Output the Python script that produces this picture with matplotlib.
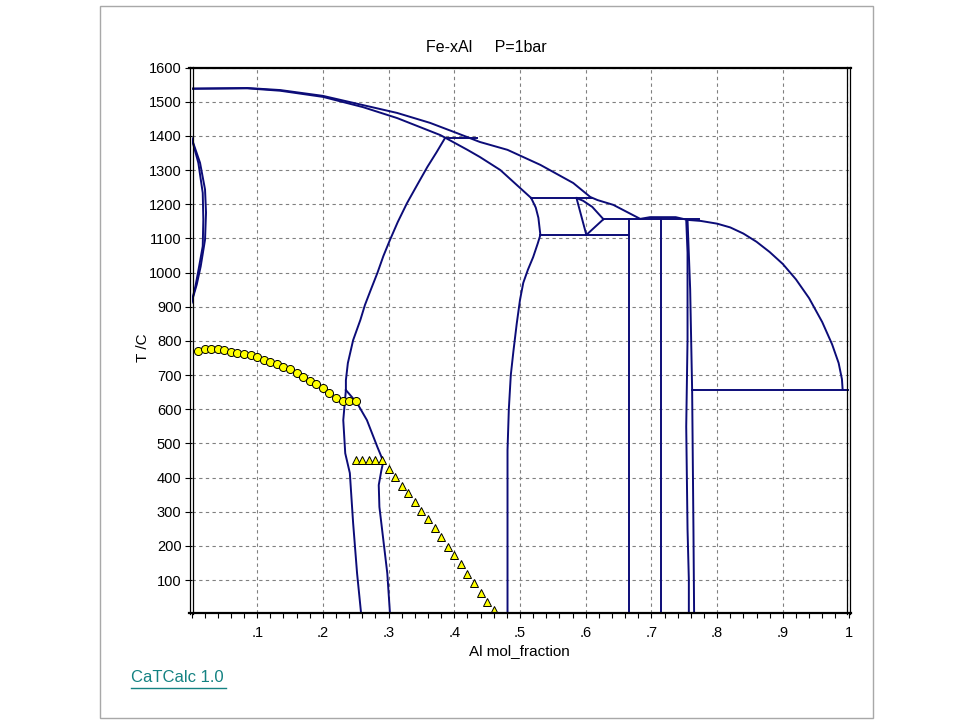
import matplotlib.pyplot as plt
from matplotlib.lines import Line2D
from matplotlib.patches import Rectangle

plt.rcParams['font.family'] = ['Liberation Sans', 'DejaVu Sans']

W, H = 960, 720
NAVY = '#0c0c78'

# --- phase boundaries (x = Al mol fraction, T in C) ---
liq_x = [0.0, 0.085, 0.135, 0.200, 0.261, 0.313, 0.363, 0.404, 0.439, 0.481, 0.531, 0.581,
         0.607, 0.618, 0.642, 0.663, 0.683, 0.698, 0.737, 0.755, 0.775, 0.800, 0.820, 0.840,
         0.860, 0.880, 0.900, 0.920, 0.940, 0.960, 0.975, 0.985, 0.990, 0.991]
liq_t = [1538, 1540, 1534, 1517, 1490, 1467, 1438, 1408, 1382, 1359, 1315, 1262,
         1221, 1212, 1198, 1177, 1157, 1162, 1162, 1154, 1151, 1143, 1132, 1114,
         1090, 1060, 1025, 980, 925, 855, 790, 735, 688, 659]

sol_x = [0.0, 0.085, 0.135, 0.200, 0.261, 0.313, 0.379, 0.420, 0.439, 0.470, 0.517]
sol_t = [1538, 1539, 1532, 1514, 1484, 1452, 1402, 1359, 1338, 1300, 1218]

b2_x = [0.517, 0.524, 0.528, 0.531, 0.527, 0.520, 0.512, 0.505, 0.500, 0.495, 0.490, 0.486,
        0.483, 0.481, 0.481]
b2_t = [1218, 1190, 1160, 1110, 1085, 1045, 1008, 970, 920, 850, 770, 700, 600, 480, 5]

ord_x = [0.386, 0.373, 0.359, 0.344, 0.328, 0.314, 0.302, 0.292, 0.283, 0.273, 0.264,
         0.257, 0.246, 0.238, 0.235, 0.235]
ord_t = [1394, 1352, 1309, 1258, 1203, 1148, 1095, 1048, 999, 950, 905,
         861, 802, 735, 685, 656]
ordl_x = [0.235, 0.231, 0.234, 0.241, 0.246, 0.252, 0.258]
ordl_t = [656, 568, 471, 413, 267, 120, 5]
ordr_x = [0.235, 0.252, 0.267, 0.283, 0.292, 0.289, 0.285, 0.286, 0.292, 0.298, 0.302]
ordr_t = [656, 618, 568, 489, 447, 421, 378, 314, 217, 120, 5]

gam_out_x = [0.0, 0.013, 0.0206, 0.0221, 0.0206, 0.014, 0.008, 0.0]
gam_out_t = [1394, 1321, 1243, 1175, 1096, 1018, 965, 912]
gam_in_x = [0.0, 0.0104, 0.0171, 0.018, 0.0171, 0.0104, 0.006, 0.0]
gam_in_t = [1394, 1321, 1233, 1155, 1077, 1005, 960, 912]

eps1_x = [0.586, 0.601]
eps1_t = [1218, 1110]
eps2_x = [0.586, 0.596, 0.610, 0.627]
eps2_t = [1218, 1210, 1192, 1156]
eps3_x = [0.627, 0.601]
eps3_t = [1156, 1110]

fe4l_x = [0.753, 0.755, 0.755, 0.753, 0.755, 0.757, 0.757]
fe4l_t = [1154, 1058, 804, 549, 248, 101, 5]
fe4r_x = [0.755, 0.759, 0.762, 0.764, 0.765]
fe4r_t = [1154, 951, 656, 248, 5]

# horizontal lines: (x start, x end, T)
horiz = [(0.517, 0.610, 1218), (0.531, 0.665, 1110), (0.386, 0.435, 1394),
         (0.627, 0.772, 1156), (0.762, 1.0, 657)]
# vertical lines: (x, T top, T bottom)
vert = [(0.666, 1156, 5), (0.714, 1160, 5)]

# --- experimental points ---
circ_x = [0.01, 0.02, 0.03, 0.04, 0.05, 0.06, 0.07, 0.08, 0.09, 0.10, 0.11, 0.12, 0.13,
          0.14, 0.15, 0.16, 0.17, 0.18, 0.19, 0.20, 0.21, 0.22, 0.23, 0.24, 0.25]
circ_t = [771, 775, 777, 777, 773, 768, 764, 762, 760, 752, 744, 738, 733,
          724, 717, 705, 693, 683, 674, 661, 648, 634, 623, 623, 623]

tri_x = [0.25, 0.26, 0.27, 0.28, 0.29, 0.30, 0.31, 0.32, 0.33, 0.34, 0.35, 0.36, 0.37,
         0.38, 0.39, 0.40, 0.41, 0.42, 0.43, 0.44, 0.45, 0.46]
tri_t = [451, 451, 451, 451, 451, 424, 401, 376, 354, 329, 303, 278, 251,
         227, 197, 173, 146, 119, 90, 61, 35, 13]

xtick_vals = [0.1, 0.2, 0.3, 0.4, 0.5, 0.6, 0.7, 0.8, 0.9, 1.0]
xtick_labels = ['.1', '.2', '.3', '.4', '.5', '.6', '.7', '.8', '.9', '1']
ytick_vals = list(range(100, 1700, 100))

fig = plt.figure(figsize=(9.6, 7.2), dpi=100)
ax = fig.add_axes([191.5 / W, 1 - 612.5 / H, 657 / W, 545 / H])

lw = 1.4
for xs, ts in [(liq_x, liq_t), (sol_x, sol_t), (b2_x, b2_t), (ord_x, ord_t),
               (ordl_x, ordl_t), (ordr_x, ordr_t), (gam_out_x, gam_out_t),
               (gam_in_x, gam_in_t), (eps1_x, eps1_t), (eps2_x, eps2_t),
               (eps3_x, eps3_t), (fe4l_x, fe4l_t), (fe4r_x, fe4r_t)]:
    ax.plot(xs, ts, color=NAVY, lw=lw)
for x0, x1, t in horiz:
    ax.plot([x0, x1], [t, t], color=NAVY, lw=lw)
for x, t0, t1 in vert:
    ax.plot([x, x], [t0, t1], color=NAVY, lw=lw)

ax.plot(circ_x, circ_t, 'o', ms=5.8, mfc='#ffff00', mec='black', mew=0.7, zorder=5)
ax.plot(tri_x, tri_t, '^', ms=6.4, mfc='#ffff00', mec='black', mew=0.7, zorder=5)

ax.set_xlim(0, 1)
ax.set_ylim(5, 1600)
ax.set_xticks(xtick_vals)
ax.set_xticklabels(xtick_labels)
ax.set_xticks([i * 0.02 for i in range(51)], minor=True)
ax.set_yticks(ytick_vals)
ax.set_yticklabels([str(v) for v in ytick_vals])
ax.tick_params(axis='x', which='both', direction='out', length=3.6, width=0.8,
               pad=6, labelsize=10.5)
ax.tick_params(axis='y', direction='out', length=5, width=0.8, pad=2.2, labelsize=10.5)
ax.grid(True, which='major', linestyle=(0, (3, 3)), color='#808080', lw=0.8)
for s in ax.spines.values():
    s.set_visible(False)

# frame: thick top/bottom, double lines left/right
def fline(px, py, w):
    fig.add_artist(Line2D([p / W for p in px], [1 - q / H for q in py],
                          transform=fig.transFigure, color='black', lw=w))

fline([189, 851], [67.5, 67.5], 1.6)
fline([189, 851], [612.5, 612.5], 1.6)
fline([190, 190], [66.5, 613.5], 0.9)
fline([193.3, 193.3], [66.5, 613.5], 0.9)
fline([846.7, 846.7], [66.5, 613.5], 0.9)
fline([850, 850], [66.5, 613.5], 0.9)

fig.add_artist(Rectangle((100 / W, 1 - 718 / H), 773 / W, 712 / H, transform=fig.transFigure,
                         fill=False, edgecolor='#a8a8a8', lw=1))

fig.text(486 / W, 1 - 47 / H, 'Fe-xAl     P=1bar', ha='center', va='center', fontsize=11.5)
fig.text(519 / W, 1 - 651 / H, 'Al mol_fraction', ha='center', va='center', fontsize=11)
fig.text(143 / W, 1 - 348 / H, 'T /C', ha='center', va='center', rotation=90, fontsize=11)
fig.text(131 / W, 1 - 678 / H, 'CaTCalc 1.0', ha='left', va='center', fontsize=12,
         color='#148282')
fig.add_artist(Line2D([131 / W, 226 / W], [1 - 688 / H, 1 - 688 / H],
                      transform=fig.transFigure, color='#148282', lw=1))

fig.savefig('out.png', dpi=100)
